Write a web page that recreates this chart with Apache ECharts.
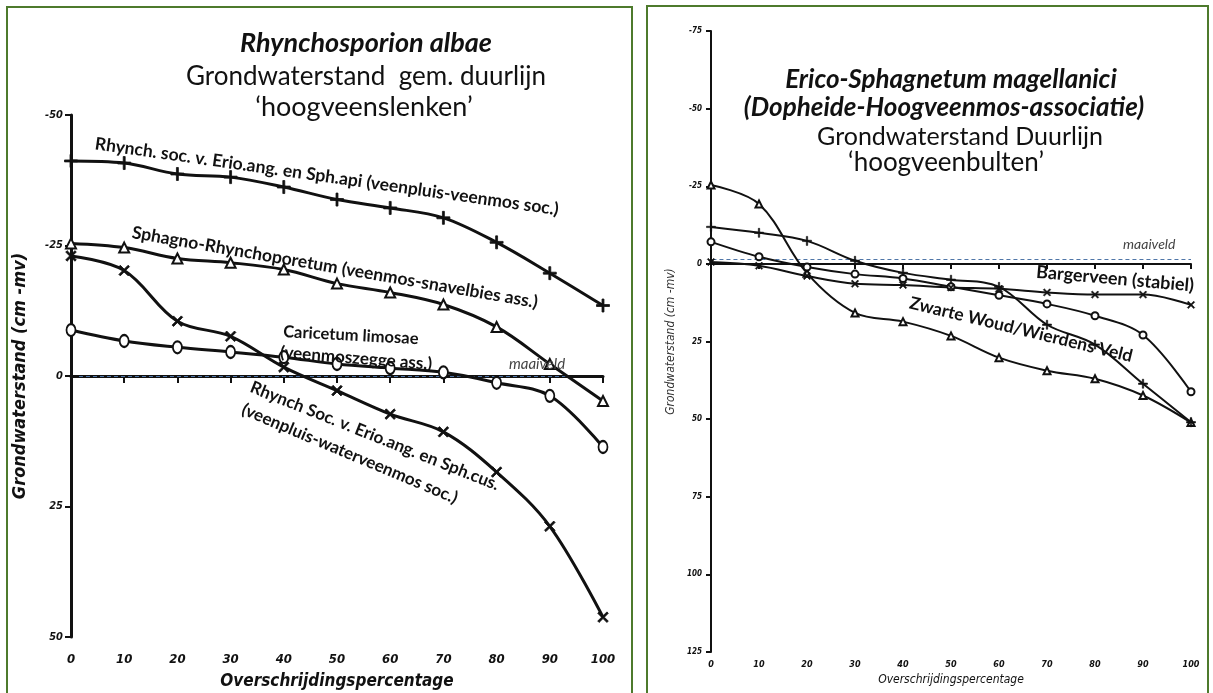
<!DOCTYPE html>
<html>
<head>
<meta charset="utf-8">
<script src="https://cdn.jsdelivr.net/npm/echarts@6.0.0/dist/echarts.min.js"></script>
<style>
  html, body { margin: 0; padding: 0; background: #ffffff; overflow: hidden; }
  #chart { width: 1213px; height: 693px; }
</style>
</head>
<body>
<div id="chart"></div>
<script>
// Overschrijdingspercentage shared by every curve
const pct = [0, 10, 20, 30, 40, 50, 60, 70, 80, 90, 100];

// Rhynchosporion albae – grondwaterstand (cm -mv; negatief = boven maaiveld)
const rhynchApi   = [-41.2, -40.8, -38.7, -38.1, -36.2, -33.8, -32.2, -30.3, -25.6, -19.7, -13.5];
const sphagnoRhyn = [-25.4, -24.6, -22.5, -21.7, -20.4, -17.7, -16.0, -13.7, -9.4, -2.3, 4.8];
const caricetum   = [-8.8, -6.7, -5.5, -4.6, -3.6, -2.3, -1.5, -0.7, 1.3, 3.8, 13.6];
const rhynchCus   = [-23.0, -20.2, -10.5, -7.6, -1.7, 2.8, 7.3, 10.7, 18.4, 28.8, 46.2];

// Erico-Sphagnetum magellanici – grondwaterstand (cm -mv)
const ericoTri    = [-25.4, -19.3, 3.0, 15.8, 18.6, 23.2, 30.2, 34.4, 37.0, 42.4, 51.1];
const ericoPlus   = [-11.9, -10.0, -7.4, -1.0, 2.9, 5.1, 7.4, 19.6, 26.0, 38.6, 51.0];
const ericoCirc   = [-7.1, -2.3, 1.0, 3.3, 4.7, 7.4, 10.1, 12.9, 16.7, 22.9, 41.2];
const bargerveen  = [-0.6, 0.6, 3.9, 6.4, 6.8, 7.6, 8.0, 9.2, 9.9, 9.9, 13.2];

// axis ranges / ticks
const xTicks      = { min: 0, max: 100, step: 10 };
const leftYTicks  = { min: -50, max: 50, step: 25 };
const rightYTicks = { min: -75, max: 125, step: 25 };

// maaiveld (ground level) reference values
const maaiveldLeft = 0;
const maaiveldRight = -1.5;

const INK = '#111111';
const GREEN = '#4d7a2c';
const GOTHIC = "'DejaVu Sans Condensed', 'DejaVu Sans', sans-serif";
const SANS = "Lato, 'Open Sans', sans-serif";

const PLUS = 'path://M4.25,0H5.75V4.25H10V5.75H5.75V10H4.25V5.75H0V4.25H4.25Z';

function pairs(values) { return pct.map((p, i) => [p, values[i]]); }

function curve(name, values, idx, symbol, size, extra) {
  const left = idx === 0;
  const isPlus = symbol === PLUS;
  return Object.assign({
    name, type: 'line', xAxisIndex: idx, yAxisIndex: idx,
    data: pairs(values), smooth: 0.35, symbol, symbolSize: size,
    showAllSymbol: true, z: 5,
    lineStyle: { color: INK, width: left ? 3 : 2 },
    itemStyle: { color: INK, borderColor: INK,
                 borderWidth: isPlus ? (left ? 0.8 : 0.6) : (left ? 2.2 : 1.6) },
    emphasis: { disabled: true }
  }, extra || {});
}

function xAxis(idx, big) {
  return {
    type: 'value', gridIndex: idx, min: xTicks.min, max: xTicks.max, interval: xTicks.step,
    name: 'Overschrijdingspercentage', nameLocation: 'middle', nameGap: big ? 36 : 19,
    nameTextStyle: { fontFamily: GOTHIC, fontStyle: 'italic', fontWeight: big ? 'bold' : 'normal',
                     fontSize: big ? 17 : 12, color: INK },
    axisLine: { show: true, lineStyle: { color: INK, width: big ? 3 : 2 } },
    axisTick: { show: true, length: big ? 7 : 5, lineStyle: { color: INK, width: 2 } },
    axisLabel: { margin: big ? 16 : 8, fontFamily: GOTHIC, fontStyle: 'italic', fontWeight: 'bold',
                 fontSize: big ? 13 : 9, color: INK },
    splitLine: { show: false }
  };
}

function yAxis(idx, big, ticks) {
  return {
    type: 'value', gridIndex: idx, inverse: true, min: ticks.min, max: ticks.max, interval: ticks.step,
    name: 'Grondwaterstand (cm -mv)', nameLocation: 'middle', nameGap: big ? 42 : 34,
    nameTextStyle: { fontFamily: GOTHIC, fontStyle: 'italic', fontWeight: big ? 'bold' : 'normal',
                     fontSize: big ? 18 : 12, color: big ? INK : '#333' },
    axisLine: { show: true, lineStyle: { color: INK, width: big ? 3 : 2 } },
    axisTick: { show: true, length: big ? 6 : 5, lineStyle: { color: INK, width: 2 } },
    axisLabel: { margin: big ? 8 : 9, fontFamily: GOTHIC, fontStyle: 'italic', fontWeight: 'bold',
                 fontSize: big ? 11 : 8, color: INK },
    splitLine: { show: false }
  };
}

function maaiveld(from, to, v) {
  return {
    silent: true, symbol: 'none', label: { show: false },
    lineStyle: { type: [4, 3], color: '#4f76a8', width: 1 },
    data: [[{ coord: [from, v] }, { coord: [to, v] }]]
  };
}

const option = {
  backgroundColor: '#ffffff',
  animation: false,
  grid: [
    { left: 71, top: 115, width: 532, height: 522, outerBoundsMode: 'none', containLabel: false },
    { left: 711, top: 31, width: 480, height: 621, outerBoundsMode: 'none', containLabel: false }
  ],
  xAxis: [xAxis(0, true), xAxis(1, false)],
  yAxis: [yAxis(0, true, leftYTicks), yAxis(1, false, rightYTicks)],
  series: [
    curve('Rhynch. soc. v. Erio.ang. en Sph.api', rhynchApi, 0, PLUS, 13,
          { markLine: maaiveld(1.5, 93, maaiveldLeft) }),
    curve('Sphagno-Rhynchoporetum', sphagnoRhyn, 0, 'emptyTriangle', 10),
    curve('Caricetum limosae', caricetum, 0, 'emptyCircle', [9, 12]),
    curve('Rhynch Soc. v. Erio.ang. en Sph.cus.', rhynchCus, 0, PLUS, 13, { symbolRotate: 45 }),
    curve('Erico-Sphagnetum (driehoek)', ericoTri, 1, 'emptyTriangle', 7,
          { markLine: maaiveld(0.3, 100, maaiveldRight) }),
    curve('Erico-Sphagnetum (plus)', ericoPlus, 1, PLUS, 9),
    curve('Erico-Sphagnetum (cirkel)', ericoCirc, 1, 'emptyCircle', 7),
    curve('Bargerveen (stabiel)', bargerveen, 1, PLUS, 9, { symbolRotate: 45 })
  ]
};

const chart = echarts.init(document.getElementById('chart'));
chart.setOption(option);

// text placed along the curves, anchored in data coordinates
const curveLabels = [
  { g: 0, text: 'Rhynch. soc. v. Erio.ang. en Sph.api (veenpluis-veenmos soc.)', at: [48.1, -38.2], rot: 8.1, size: 17.5 },
  { g: 0, text: 'Sphagno-Rhynchoporetum (veenmos-snavelbies ass.)', at: [49.6, -20.8], rot: 9.8, size: 17.5 },
  { g: 0, text: 'Caricetum limosae', at: [52.6, -7.8], rot: 3, size: 16.5 },
  { g: 0, text: '(veenmoszegge ass.)', at: [53.6, -3.4], rot: 4.5, size: 17 },
  { g: 0, text: 'Rhynch Soc. v. Erio.ang. en Sph.cus.', at: [57.1, 11.5], rot: 21.8, size: 17 },
  { g: 0, text: '(veenpluis-waterveenmos soc.)', at: [52.4, 14.9], rot: 22.8, size: 17 },
  { g: 0, text: 'maaiveld', at: [87.6, -2.3], rot: 0, size: 15, italic: true },
  { g: 1, text: 'Bargerveen (stabiel)', at: [84.2, 4.8], rot: 5, size: 18 },
  { g: 1, text: 'Zwarte Woud/Wierdens Veld', at: [64.6, 21.2], rot: 13.6, size: 17.5 },
  { g: 1, text: 'maaiveld', at: [91.3, -6.1], rot: 0, size: 14, italic: true }
];

const titleLines = [
  { text: 'Rhynchosporion albae', x: 366, y: 43, size: 27, bold: true, italic: true },
  { text: 'Grondwaterstand  gem. duurlijn', x: 366, y: 77, size: 26 },
  { text: '\u2018hoogveenslenken\u2019', x: 364, y: 107, size: 27 },
  { text: 'Erico-Sphagnetum magellanici', x: 951, y: 80, size: 26, bold: true, italic: true },
  { text: '(Dopheide-Hoogveenmos-associatie)', x: 944, y: 108, size: 26, bold: true, italic: true },
  { text: 'Grondwaterstand Duurlijn', x: 960, y: 137, size: 25 },
  { text: '\u2018hoogveenbulten\u2019', x: 946, y: 163, size: 26 }
];

const graphic = [
  { type: 'rect', silent: true, z: 0, shape: { x: 7, y: 7, width: 625, height: 700 },
    style: { fill: 'none', stroke: GREEN, lineWidth: 2 } },
  { type: 'rect', silent: true, z: 0, shape: { x: 647, y: 6, width: 561, height: 700 },
    style: { fill: 'none', stroke: GREEN, lineWidth: 2 } }
];

titleLines.forEach(t => graphic.push({
  type: 'text', silent: true, z: 10, x: t.x, y: t.y,
  style: { text: t.text, fontFamily: SANS, fontSize: t.size,
           fontWeight: t.bold ? 'bold' : 'normal', fontStyle: t.italic ? 'italic' : 'normal',
           fill: INK, align: 'center', verticalAlign: 'middle' }
}));

curveLabels.forEach(l => {
  const p = chart.convertToPixel({ gridIndex: l.g }, l.at);
  graphic.push({
    type: 'text', silent: true, z: 10, x: p[0], y: p[1], rotation: -l.rot * Math.PI / 180,
    style: { text: l.text, fontFamily: SANS, fontSize: l.size,
             fontWeight: l.italic ? 'normal' : 'bold', fontStyle: l.italic ? 'italic' : 'normal',
             fill: l.italic ? '#444' : INK, align: 'center', verticalAlign: 'middle' }
  });
});

chart.setOption({ graphic });
</script>
</body>
</html>
